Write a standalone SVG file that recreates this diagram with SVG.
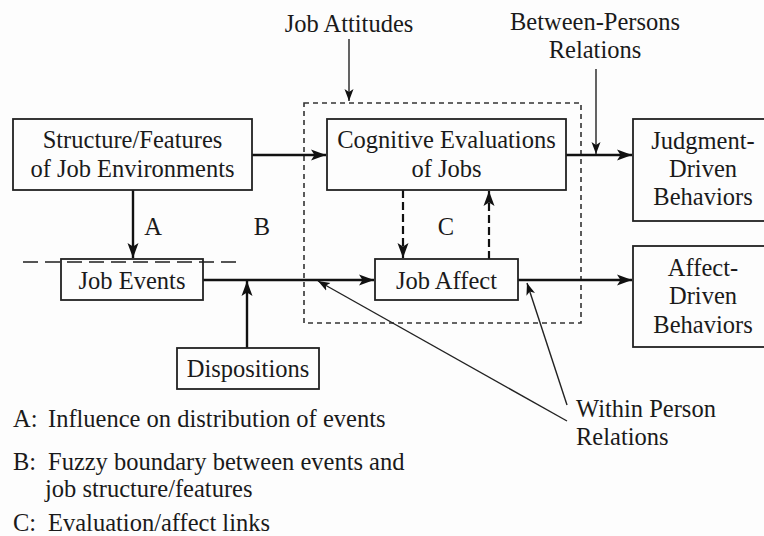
<svg xmlns="http://www.w3.org/2000/svg" width="764" height="536" viewBox="0 0 764 536">
<style>
  text { font-family: "Liberation Serif", Tinos, "Nimbus Roman", "Nimbus Roman No9 L", FreeSerif, "Noto Serif", "DejaVu Serif", "Times New Roman", Times, serif; font-size: 24.5px; fill: #1a1a1a; }
  .c { text-anchor: middle; }
  .box { fill: none; stroke: #222; stroke-width: 1.8; }
  .main { fill: none; stroke: #111; stroke-width: 2.4; }
  .thin { fill: none; stroke: #222; stroke-width: 1.4; }
  .dash { fill: none; stroke: #111; stroke-width: 2.2; stroke-dasharray: 8 4; }
  .region { fill: none; stroke: #333; stroke-width: 1.6; stroke-dasharray: 5 4; }
  .fuzzy { fill: none; stroke: #555; stroke-width: 2; stroke-dasharray: 15 7; }
</style>
<defs>
  <marker id="ah" markerUnits="userSpaceOnUse" markerWidth="16" markerHeight="12" refX="15" refY="6" orient="auto">
    <path d="M0,0.5 L15,6 L0,11.5 L3.5,6 z" fill="#111"/>
  </marker>
  <marker id="ahs" markerUnits="userSpaceOnUse" markerWidth="13" markerHeight="10" refX="12" refY="5" orient="auto">
    <path d="M0,0.5 L12,5 L0,9.5 L3,5 z" fill="#111"/>
  </marker>
</defs>
<rect width="764" height="536" fill="#fdfdfd"/>

<g id="region">
  <rect class="region" x="304" y="103" width="277" height="220"/>
</g>
<g id="fuzzy-boundary">
  <line class="fuzzy" x1="23" y1="262" x2="240" y2="262"/>
</g>

<g id="connectors">
  <line class="thin" x1="349" y1="39" x2="349" y2="101" marker-end="url(#ahs)"/>
  <line class="thin" x1="596" y1="69" x2="596" y2="154" marker-end="url(#ahs)"/>
  <line class="main" x1="252" y1="155" x2="326" y2="155" marker-end="url(#ah)"/>
  <line class="main" x1="566" y1="155" x2="632" y2="155" marker-end="url(#ah)"/>
  <line class="main" x1="133" y1="190" x2="133" y2="258" marker-end="url(#ah)"/>
  <line class="main" x1="203" y1="280" x2="374" y2="280" marker-end="url(#ah)"/>
  <line class="main" x1="518" y1="280" x2="632" y2="280" marker-end="url(#ah)"/>
  <line class="main" x1="247" y1="348" x2="247" y2="281" marker-end="url(#ah)"/>
  <line class="dash" x1="403" y1="190" x2="403" y2="258" marker-end="url(#ah)"/>
  <line class="dash" x1="489" y1="259" x2="489" y2="191" marker-end="url(#ah)"/>
  <line class="thin" x1="567" y1="421" x2="318" y2="281" marker-end="url(#ahs)"/>
  <line class="thin" x1="567" y1="405" x2="527" y2="283" marker-end="url(#ahs)"/>
</g>

<g id="job-attitudes"><text class="c" x="349" y="32">Job Attitudes</text></g>
<g id="between-persons">
  <text class="c" x="595" y="30">Between-Persons</text>
  <text class="c" x="595" y="58">Relations</text>
</g>
<g id="structure">
  <rect class="box" x="13" y="119" width="239" height="71"/>
  <text class="c" x="132.5" y="148">Structure/Features</text>
  <text class="c" x="132.5" y="177">of Job Environments</text>
</g>
<g id="cognitive">
  <rect class="box" x="327" y="119" width="239" height="71"/>
  <text class="c" x="446.5" y="148">Cognitive Evaluations</text>
  <text class="c" x="446.5" y="177">of Jobs</text>
</g>
<g id="judgment">
  <rect class="box" x="633" y="119" width="140" height="102"/>
  <text class="c" x="703" y="149">Judgment-</text>
  <text class="c" x="703" y="177">Driven</text>
  <text class="c" x="703" y="205">Behaviors</text>
</g>
<g id="affect-driven">
  <rect class="box" x="633" y="246" width="140" height="101"/>
  <text class="c" x="703" y="276">Affect-</text>
  <text class="c" x="703" y="304">Driven</text>
  <text class="c" x="703" y="333">Behaviors</text>
</g>
<g id="job-events">
  <rect class="box" x="61" y="259" width="142" height="41"/>
  <text class="c" x="132" y="289">Job Events</text>
</g>
<g id="job-affect">
  <rect class="box" x="375" y="259" width="143" height="41"/>
  <text class="c" x="446.5" y="289">Job Affect</text>
</g>
<g id="dispositions">
  <rect class="box" x="177" y="348" width="142" height="41"/>
  <text class="c" x="248" y="377">Dispositions</text>
</g>
<g id="within-person">
  <text x="576" y="417">Within Person</text>
  <text x="576" y="445">Relations</text>
</g>
<g id="labels">
  <text class="c" x="153" y="235">A</text>
  <text class="c" x="262" y="235">B</text>
  <text class="c" x="446" y="235">C</text>
</g>
<g id="legend">
  <text x="13" y="427">A:</text><text x="48" y="427">Influence on distribution of events</text>
  <text x="13" y="470">B:</text><text x="48" y="470">Fuzzy boundary between events and</text>
  <text x="45" y="497">job structure/features</text>
  <text x="13" y="531">C:</text><text x="48" y="531">Evaluation/affect links</text>
</g>
</svg>
